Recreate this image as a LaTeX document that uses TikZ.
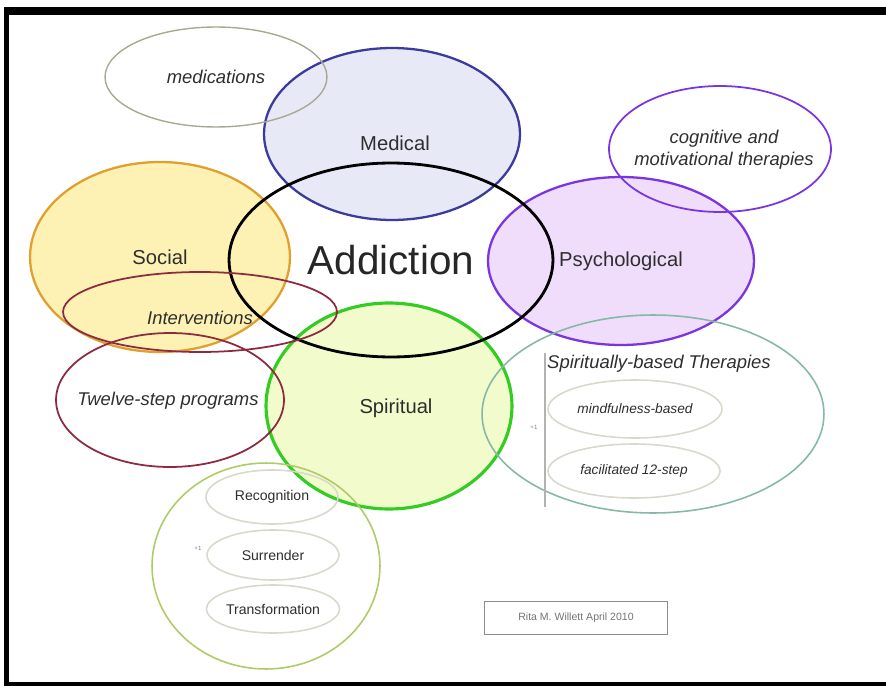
\documentclass[tikz,border=0pt]{standalone}
\usepackage{fontspec}
\setmainfont{Liberation Sans}
\usetikzlibrary{shapes.geometric,positioning}

\definecolor{medblue}{HTML}{3B3B9C}
\definecolor{medfill}{HTML}{E8E9F7}
\definecolor{psyline}{HTML}{7A35E0}
\definecolor{psyfill}{HTML}{EFDDFB}
\definecolor{socline}{HTML}{E0A030}
\definecolor{socfill}{HTML}{FDF2B4}
\definecolor{maroon}{HTML}{8E2A40}
\definecolor{spiline}{HTML}{33CC22}
\definecolor{spifill}{HTML}{F1FBCB}
\definecolor{tealgray}{HTML}{86B8A8}
\definecolor{olivegray}{HTML}{A9A892}
\definecolor{paleline}{HTML}{D6D9CC}
\definecolor{lightgreen}{HTML}{AECB66}
\definecolor{inktext}{HTML}{2E2E2E}

\tikzset{
  blob/.style={ellipse, inner sep=0pt, text=inktext},
  mainlbl/.style={font=\fontsize{11.5}{13}\selectfont, text=inktext},
  sublbl/.style={font=\fontsize{10.5}{12.5}\selectfont\itshape, text=inktext},
  smalllbl/.style={font=\fontsize{8}{9.5}\selectfont},
  tinymark/.style={font=\fontsize{3.5}{4}\selectfont, text=black!50}
}

\begin{document}
\begin{tikzpicture}[x=0.02cm, y=-0.02cm]
\useasboundingbox (0,0) rectangle (886,686);

% frame
\fill[black] (4,7) rectangle (886,15);
\fill[black] (4,7) rectangle (9,686);
\fill[black] (4,682) rectangle (886,686);

% filled circles
\node[blob, draw=medblue, fill=medfill, line width=1.3pt, minimum width=5.12cm, minimum height=3.44cm] (medical) at (392,134) {};
\node[blob, draw=psyline, fill=psyfill, line width=1.3pt, minimum width=5.32cm, minimum height=3.36cm, mainlbl] (psych) at (621,261) {Psychological};
\node[blob, draw=socline, fill=socfill, line width=1.3pt, minimum width=5.2cm, minimum height=3.8cm, mainlbl] (social) at (160,257) {Social};
\node[blob, draw=spiline, fill=spifill, line width=1.8pt, minimum width=4.92cm, minimum height=4.12cm] (spiritual) at (389,406) {};

% open circles
\node[blob, draw=olivegray, line width=0.8pt, minimum width=4.44cm, minimum height=2cm, sublbl] (meds) at (216,77) {medications};
\node[blob, draw=black, line width=1.6pt, minimum width=6.48cm, minimum height=3.88cm, font=\fontsize{23}{26}\selectfont, text=black!85] (addiction) at (391,260) {Addiction};
\node[blob, draw=psyline, line width=1pt, minimum width=4.44cm, minimum height=2.52cm] (cogn) at (720,149) {};
\node[blob, draw=maroon, line width=1pt, minimum width=5.48cm, minimum height=1.6cm] (interv) at (200,312) {};
\node[blob, draw=maroon, line width=1pt, minimum width=4.56cm, minimum height=2.68cm] (twelve) at (170,400) {};

% labels set off the centre
\node[mainlbl] (medlbl) at (395,143) {Medical};
\node[mainlbl] (spirlbl) at (396,408) {Spiritual};
\node[sublbl, align=center] (cognlbl) at (724,150) {cognitive and\\motivational therapies};
\node[sublbl] (intervlbl) at (200,318) {Interventions};
\node[sublbl] (twelvelbl) at (168,401) {Twelve-step programs};

% spiritually-based therapies
\node[blob, draw=tealgray, line width=0.9pt, minimum width=6.84cm, minimum height=3.96cm] (sbt) at (653,414) {};
\node[sublbl] (sbtlbl) at (659,364) {Spiritually-based Therapies};
\node[blob, draw=paleline, line width=0.9pt, minimum width=3.48cm, minimum height=1.16cm, font=\fontsize{7.8}{9}\selectfont\itshape] (mindful) at (635,409) {mindfulness-based};
\node[blob, draw=paleline, line width=0.9pt, minimum width=3.44cm, minimum height=1.08cm, font=\fontsize{7.8}{9}\selectfont\itshape] (facil) at (634,471) {facilitated 12-step};
\coordinate (bartop) at (545,353);
\coordinate (barbot) at (545,507);
\draw[black!30, line width=0.6pt] (bartop) -- (barbot);
\node[tinymark] (mark1) at (534,427) {+1};

% stages
\node[blob, draw=lightgreen, line width=0.9pt, minimum width=4.56cm, minimum height=4.12cm] (stages) at (266,566) {};
\node[blob, draw=paleline, line width=0.9pt, minimum width=2.64cm, minimum height=1.08cm, smalllbl] (recog) at (272,497) {Recognition};
\node[blob, draw=paleline, line width=0.9pt, minimum width=2.64cm, minimum height=1cm, smalllbl] (surr) at (273,555) {Surrender};
\node[blob, draw=paleline, line width=0.9pt, minimum width=2.64cm, minimum height=0.96cm, smalllbl] (transf) at (273,609) {Transformation};
\node[tinymark] (mark2) at (198,548) {+1};

% credit
\node[draw=black!45, line width=0.8pt, minimum width=3.66cm, minimum height=0.66cm, font=\fontsize{6}{7}\selectfont, text=black!55] (credit) at (576,618) {Rita M. Willett April 2010};
\end{tikzpicture}
\end{document}
